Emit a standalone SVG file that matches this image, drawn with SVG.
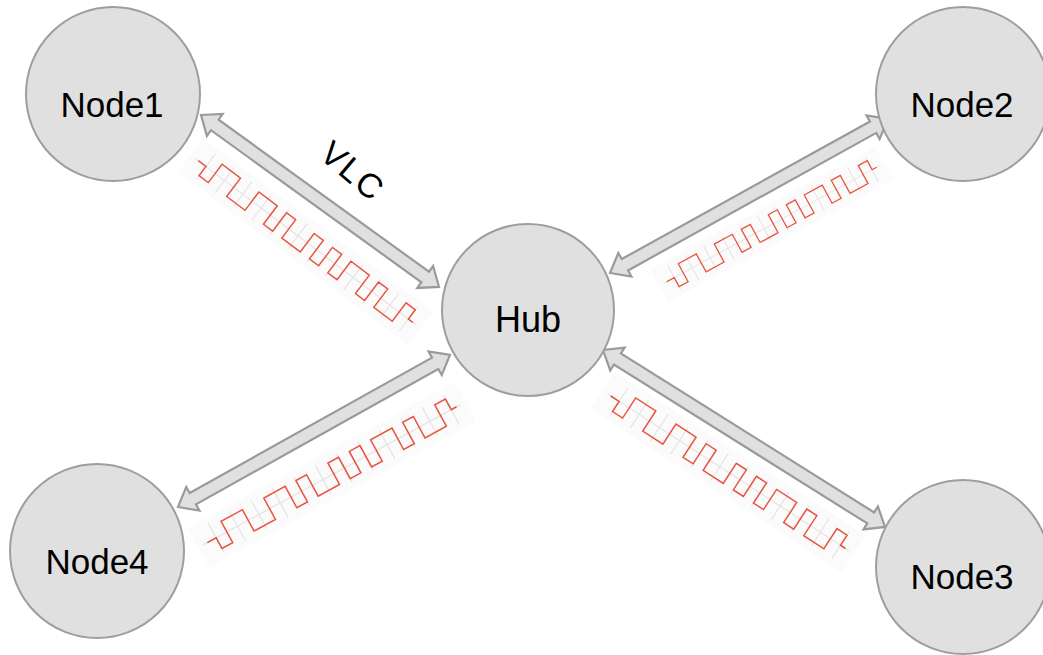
<svg xmlns="http://www.w3.org/2000/svg" width="1043" height="655" viewBox="0 0 1043 655">
<style>
.node{fill:#e0e0e0;stroke:#9e9e9e;stroke-width:2}
.lbl{font-family:"Liberation Sans",Arial,sans-serif;font-size:35px;fill:#000;text-anchor:middle}
.arr{fill:#e0e0e0;stroke:#9a9a9a;stroke-width:2.2;stroke-linejoin:miter}
.wbg{fill:#fbfbfb}
.grid{stroke:#e4e4e4;stroke-width:1.2;fill:none}
.sig{stroke:#e8533f;stroke-width:1.5;fill:none}
</style>
<defs>
<g id="wave">
<rect class="wbg" x="-10" y="-22" width="300" height="44"/>
<path class="grid" d="M-4,0 H284 M10,-16 V16 M34,-16 V16 M58,-16 V16 M82,-16 V16 M106,-16 V16 M130,-16 V16 M154,-16 V16 M178,-16 V16 M202,-16 V16 M226,-16 V16 M250,-16 V16 M274,-16 V16"/>
<path class="sig" d="M0,0 H10 V12 H22 V-12 H46 V12 H70 V-12 H94 V12 H106 V-12 H118 V12 H142 V-12 H154 V12 H166 V-12 H178 V12 H190 V-12 H214 V12 H226 V-12 H238 V12 H262 V-12 H274 V0 H280"/>
</g>
</defs>
<rect width="1043" height="655" fill="#fff"/>
<g id="signals">
<use href="#wave" transform="translate(198.3,160.7) rotate(37) scale(0.96)"/>
<use href="#wave" transform="translate(666.7,281.7) rotate(-28.6) scale(0.854)"/>
<use href="#wave" transform="translate(207.3,542.7) rotate(-28.6) scale(1.014)"/>
<use href="#wave" transform="translate(610.7,396) rotate(33) scale(1.0)"/>
</g>
<g id="connectors">
<path class="arr" transform="translate(201,115) rotate(35.85)" d="M0,0 L17,-13.5 L17,-6.5 L276.6,-6.5 L276.6,-13.5 L293.6,0 L276.6,13.5 L276.6,6.5 L17,6.5 L17,13.5 Z"/>
<path class="arr" transform="translate(610,273) rotate(-28.99)" d="M0,0 L17,-13.5 L17,-6.5 L300.8,-6.5 L300.8,-13.5 L317.8,0 L300.8,13.5 L300.8,6.5 L17,6.5 L17,13.5 Z"/>
<path class="arr" transform="translate(178,507) rotate(-29.2)" d="M0,0 L17,-13.5 L17,-6.5 L294.6,-6.5 L294.6,-13.5 L311.6,0 L294.6,13.5 L294.6,6.5 L17,6.5 L17,13.5 Z"/>
<path class="arr" transform="translate(603,350) rotate(32.1)" d="M0,0 L17,-13.5 L17,-6.5 L316,-6.5 L316,-13.5 L333,0 L316,13.5 L316,6.5 L17,6.5 L17,13.5 Z"/>
<text class="lbl" style="font-size:34px;letter-spacing:2px" transform="translate(353,171) rotate(40)" x="0" y="12">VLC</text>
</g>
<g id="node1"><circle class="node" cx="113" cy="94" r="87"/><text class="lbl" x="112" y="117">Node1</text></g>
<g id="node2"><circle class="node" cx="963" cy="94" r="87"/><text class="lbl" x="962" y="117">Node2</text></g>
<g id="hub"><circle class="node" cx="528" cy="310" r="86"/><text class="lbl" style="font-size:36px" x="528" y="332">Hub</text></g>
<g id="node4"><circle class="node" cx="97" cy="551" r="87"/><text class="lbl" x="97" y="574">Node4</text></g>
<g id="node3"><circle class="node" cx="963" cy="567" r="87"/><text class="lbl" x="962" y="589">Node3</text></g>
</svg>
